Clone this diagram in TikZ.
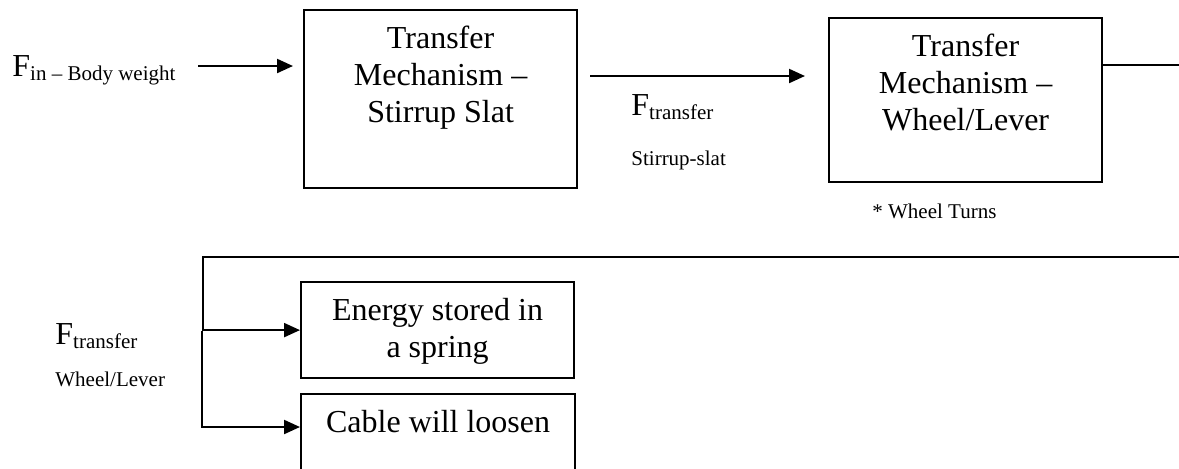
\documentclass[tikz,border=0pt]{standalone}
\usepackage{fontspec}
\setmainfont{Liberation Serif}
\usetikzlibrary{arrows.meta,calc}
\newcommand{\bigfnt}{\fontsize{16}{18.5}\selectfont}
\newcommand{\smallfnt}{\fontsize{10.5}{12}\selectfont}
\begin{document}
\begin{tikzpicture}[x=0.5pt,y=-0.5pt,
  box/.style={draw, line width=1.1pt, anchor=north west, inner sep=0pt},
  boxtext/.style={anchor=north, inner sep=0pt, align=center, font=\bigfnt},
  lbl/.style={anchor=base west, inner sep=0pt, font=\bigfnt},
  small/.style={anchor=base west, inner sep=0pt, font=\smallfnt},
  conn/.style={line width=1.1pt},
  arr/.style={line width=1.1pt, -{Triangle[length=8pt,width=7pt]}}]
\useasboundingbox (0,0) rectangle (1179,468);
\clip (0,0) rectangle (1179,468);
% boxes
\node[box, minimum width=136.5pt, minimum height=89pt] (b1) at (303,9) {};
\node[boxtext] (t1) at ($(b1.north)+(0,17)$) {Transfer\\Mechanism –\\Stirrup Slat};
\node[box, minimum width=136.5pt, minimum height=82pt] (b2) at (828,17) {};
\node[boxtext] (t2) at ($(b2.north)+(0,17)$) {Transfer\\Mechanism –\\Wheel/Lever};
\node[box, minimum width=136.5pt, minimum height=48pt] (b3) at (300,281) {};
\node[boxtext] (t3) at ($(b3.north)+(0,17)$) {Energy stored in\\a spring};
\node[box, minimum width=137pt, minimum height=60pt] (b4) at (300,393) {};
\node[boxtext] (t4) at ($(b4.north)+(0,17)$) {Cable will loosen};
% labels
\node[lbl] (fin) at (12,76) {F\raisebox{-2pt}{\smallfnt in – Body weight}};
\node[lbl] (ft1) at (631,115) {F\raisebox{-2pt}{\smallfnt transfer}};
\node[small] (ss) at (631,165) {Stirrup-slat};
\node[small] (wt) at (872,218) {* Wheel Turns};
\node[lbl] (ft2) at (55,344) {F\raisebox{-2pt}{\smallfnt transfer}};
\node[small] (wl) at (55,386) {Wheel/Lever};
% connectors
\coordinate (s1) at (198,66);
\draw[arr, shorten >=5pt] (s1) -- (b1.west |- s1);
\draw[arr, shorten <=6pt, shorten >=11.5pt] (b1.east |- 0,76) -- (b2.west |- 0,76);
\coordinate (e1) at (1179,65);
\draw[conn] (b2.east |- e1) -- (e1);
\coordinate (e2) at (1179,257);
\coordinate (j1) at (203,0);
\draw[arr] (e2) -| (j1 |- b3.west) -- (b3.west);
\coordinate (j2) at (202,331);
\draw[arr] (j2) |- (b4.west |- 0,427);
\end{tikzpicture}
\end{document}
